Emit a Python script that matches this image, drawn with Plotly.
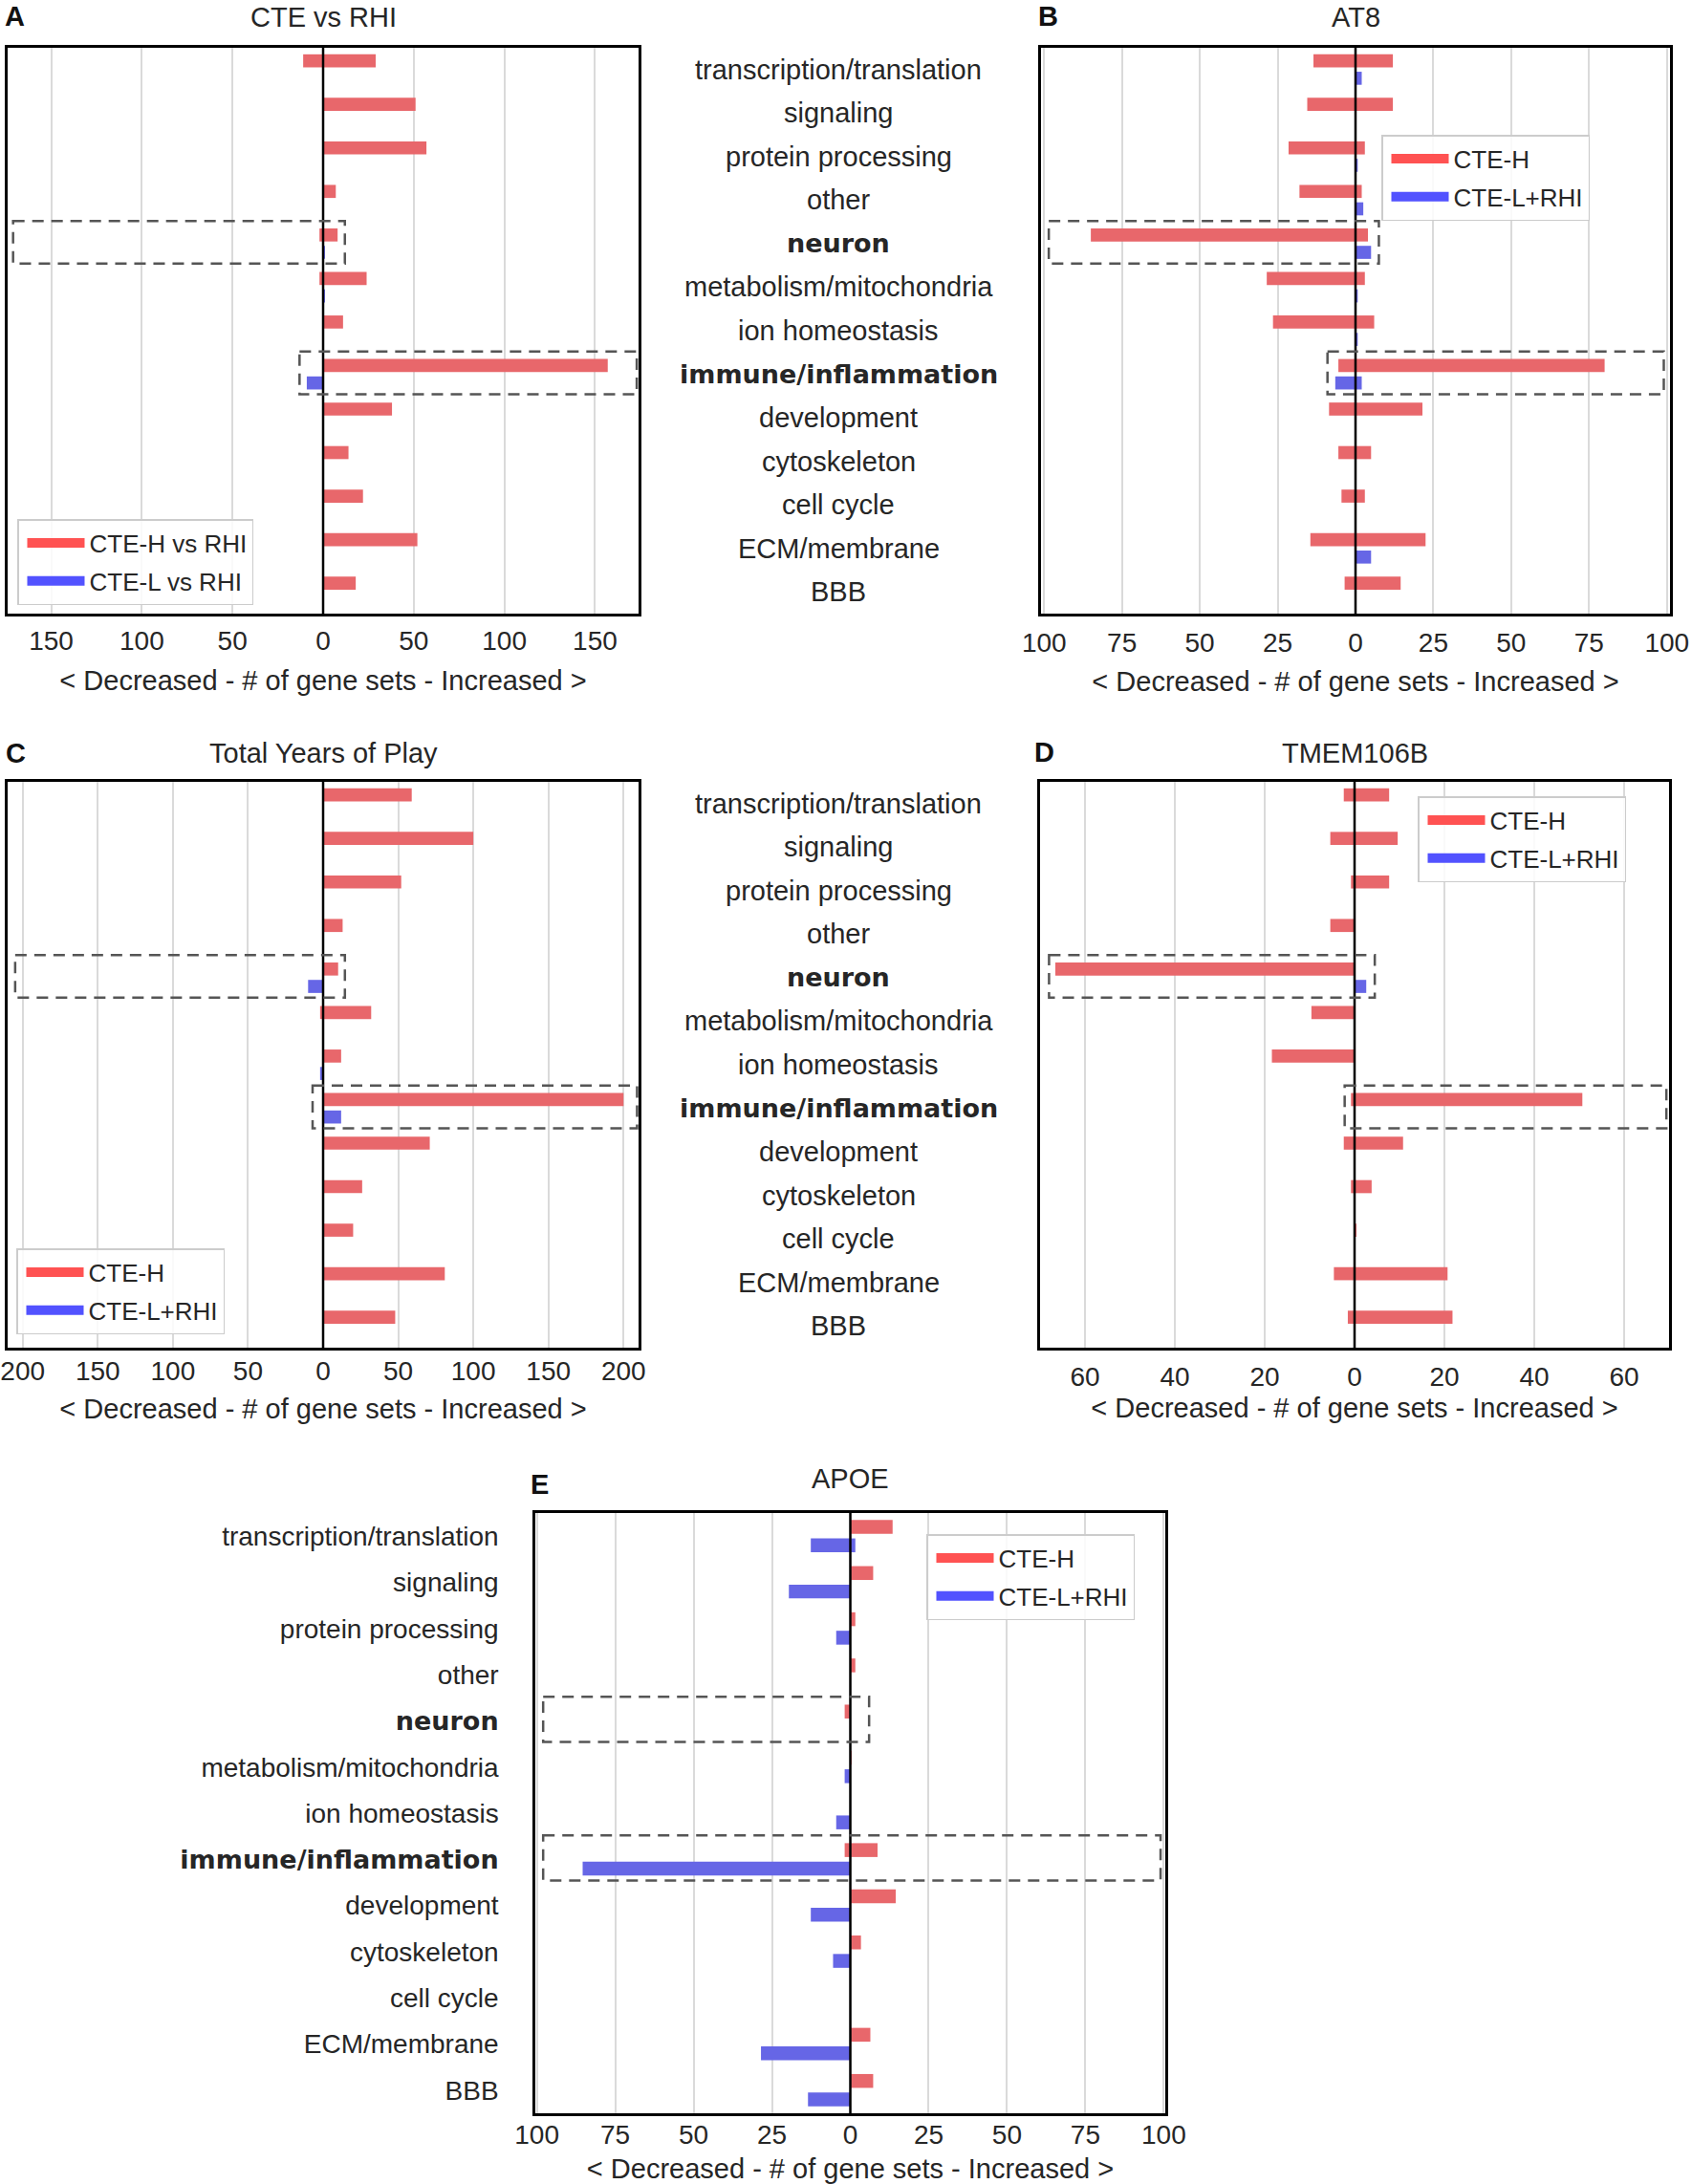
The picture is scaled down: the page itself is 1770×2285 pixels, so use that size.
import plotly.graph_objects as go

W, H = 1770, 2285

# ---------------- data ----------------
CATEGORIES = ["transcription/translation", "signaling", "protein processing", "other",
              "neuron", "metabolism/mitochondria", "ion homeostasis", "immune/inflammation",
              "development", "cytoskeleton", "cell cycle", "ECM/membrane", "BBB"]
BOLD_CATEGORIES = ["neuron", "immune/inflammation"]

PANEL_LETTERS = ["A", "B", "C", "D", "E"]
PANEL_TITLES = ["CTE vs RHI", "AT8", "Total Years of Play", "TMEM106B", "APOE"]
SERIES_NAMES_A = ["CTE-H vs RHI", "CTE-L vs RHI"]
SERIES_NAMES = ["CTE-H", "CTE-L+RHI"]
X_TITLE = "< Decreased - # of gene sets - Increased >"

# A: CTE vs RHI
A_H_INC = [29, 51, 57, 7, 8, 24, 11, 157, 38, 14, 22, 52, 18]
A_H_DEC = [-11, 0, 0, 0, -2, -2, 0, 0, 0, 0, 0, 0, 0]
A_L_INC = [0, 0, 0, 0, 1, 1, 0, 0, 0, 0, 0, 0, 0]
A_L_DEC = [0, 0, 0, 0, 0, 0, 0, -9, 0, 0, 0, 0, 0]
A_TICKS = [-150, -100, -50, 0, 50, 100, 150]

# B: AT8
B_H_INC = [12, 12, 3, 2, 4, 3, 6, 80, 21.5, 5, 3, 22.5, 14.5]
B_H_DEC = [-13.5, -15.5, -21.5, -18, -85, -28.5, -26.5, -5.5, -8.5, -5.5, -4.5, -14.5, -3.5]
B_L_INC = [2, 0, 0.7, 2.5, 5, 0.7, 0.7, 2, 0, 0, 0, 5, 0]
B_L_DEC = [0, 0, 0, 0, 0, 0, 0, -6.5, 0, 0, 0, 0, 0]
B_TICKS = [-100, -75, -50, -25, 0, 25, 50, 75, 100]

# C: Total Years of Play
C_H_INC = [59, 100, 52, 13, 10, 32, 12, 200, 71, 26, 20, 81, 48]
C_H_DEC = [0, 0, 0, 0, 0, -2, 0, 0, 0, 0, 0, 0, 0]
C_L_INC = [0, 0, 0, 0, 0, 0, 0, 12, 0, 0, 0, 0, 0]
C_L_DEC = [0, 0, 0, 0, -10, 0, -2, 0, 0, 0, 0, 0, 0]
C_TICKS = [-200, -150, -100, -50, 0, 50, 100, 150, 200]

# D: TMEM106B
D_H_INC = [7.7, 9.6, 7.7, 0, 0, 0, 0, 50.7, 10.8, 3.8, 0.3, 20.7, 21.8]
D_H_DEC = [-2.4, -5.4, -0.8, -5.4, -66.6, -9.6, -18.4, -0.8, -2.4, -0.8, 0, -4.6, -1.5]
D_L_INC = [0, 0, 0, 0, 2.6, 0, 0, 0, 0, 0, 0, 0, 0]
D_L_DEC = [0, 0, 0, 0, 0, 0, 0, 0, 0, 0, 0, 0, 0]
D_TICKS = [-60, -40, -20, 0, 20, 40, 60]

# E: APOE
E_H_INC = [13.5, 7.3, 1.6, 1.6, 0, 0.3, 0, 8.7, 14.5, 3.4, 0, 6.4, 7.3]
E_H_DEC = [0, 0, 0, 0, -1.8, 0, 0, -1.8, 0, 0, 0, 0, 0]
E_L_INC = [1.6, 0, 0, 0, 0, 0, 0, 0, 0, 0, 0, 0, 0]
E_L_DEC = [-12.6, -19.6, -4.5, 0, 0, -1.8, -4.5, -85.4, -12.6, -5.5, 0, -28.5, -13.5]
E_TICKS = [-100, -75, -50, -25, 0, 25, 50, 75, 100]

# ---------------- layout / style (pixels) ----------------
RED_BAR, BLUE_BAR = "#E8676B", "#6666E6"
RED_LEG, BLUE_LEG = "#FF5252", "#5252FF"
TEXT = "#262626"
FONT = "Liberation Sans, Arial, sans-serif"
BOLD_FONT = "DejaVu Sans, Verdana, sans-serif"

panels = [
    dict(h_inc=A_H_INC, h_dec=A_H_DEC, l_inc=A_L_INC, l_dec=A_L_DEC, ticks=A_TICKS, R=174,
         box=(8, 668, 50, 642), names=SERIES_NAMES_A, hl=[(-171, 12), (-13, 173)],
         legend=dict(x=18, y=633, yanchor="bottom"), title_y=18, letter=(3, 17),
         tstand=2, ttl=17),
    dict(h_inc=B_H_INC, h_dec=B_H_DEC, l_inc=B_L_INC, l_dec=B_L_DEC, ticks=B_TICKS, R=101,
         box=(1089, 1747, 50, 642), names=SERIES_NAMES, hl=[(-98.5, 7.5), (-9, 99)],
         legend=dict(x=1445, y=141, yanchor="top"), title_y=18, letter=(1084, 17),
         tstand=4, ttl=16),
    dict(h_inc=C_H_INC, h_dec=C_H_DEC, l_inc=C_L_INC, l_dec=C_L_DEC, ticks=C_TICKS, R=210,
         box=(8, 668, 818, 1410), names=SERIES_NAMES, hl=[(-205, 14.5), (-7, 209)],
         legend=dict(x=17, y=1396, yanchor="bottom"), title_y=788, letter=(4, 788),
         tstand=-2, ttl=15),
    dict(h_inc=D_H_INC, h_dec=D_H_DEC, l_inc=D_L_INC, l_dec=D_L_DEC, ticks=D_TICKS, R=70,
         box=(1088, 1746, 818, 1410), names=SERIES_NAMES, hl=[(-68, 4.5), (-2.2, 69.4)],
         legend=dict(x=1483, y=833, yanchor="top"), title_y=788, letter=(1080, 787),
         tstand=4, ttl=8),
    dict(h_inc=E_H_INC, h_dec=E_H_DEC, l_inc=E_L_INC, l_dec=E_L_DEC, ticks=E_TICKS, R=100.5,
         box=(560, 1219, 1583, 2211), names=SERIES_NAMES, hl=[(-98, 6), (-98, 99)],
         legend=dict(x=969, y=1605, yanchor="top"), title_y=1547, letter=(553, 1553),
         tstand=-4, ttl=11),
]

BAR_W = 0.3
fig = go.Figure()
shapes, annotations = [], []

for i, p in enumerate(panels):
    n = i + 1
    xid = "x" if n == 1 else f"x{n}"
    yid = "y" if n == 1 else f"y{n}"
    lid = "legend" if n == 1 else f"legend{n}"
    l, r, t, b = p["box"]

    for vals, color, off in [(p["h_inc"], RED_BAR, -0.35), (p["h_dec"], RED_BAR, -0.35),
                             (p["l_inc"], BLUE_BAR, 0.05), (p["l_dec"], BLUE_BAR, 0.05)]:
        fig.add_trace(go.Bar(orientation="h", y=CATEGORIES, x=vals, width=BAR_W, offset=off,
                             marker=dict(color=color, line=dict(width=0)),
                             xaxis=xid, yaxis=yid, showlegend=False))
    for name, color, grp in [(p["names"][0], RED_LEG, "h"), (p["names"][1], BLUE_LEG, "l")]:
        fig.add_trace(go.Scatter(x=[None], y=[None], mode="lines", name=name,
                                 line=dict(color=color, width=20), legend=lid,
                                 legendgroup=f"{grp}{n}", xaxis=xid, yaxis=yid))

    R = p["R"]
    xa = dict(domain=[l / W, r / W], range=[-R, R], anchor=yid,
              tickmode="array", tickvals=p["ticks"], ticktext=[str(abs(v)) for v in p["ticks"]],
              showgrid=True, gridcolor="#DADADA", gridwidth=1.5, zeroline=False,
              showline=True, mirror=True, linecolor="black", linewidth=2.5,
              ticks="", ticklabelstandoff=p["tstand"], tickfont=dict(size=28, color=TEXT),
              title=dict(text=X_TITLE, font=dict(size=29, color=TEXT), standoff=p["ttl"]),
              automargin=False, fixedrange=True)
    ya = dict(domain=[1 - b / H, 1 - t / H], range=[12.5, -0.5], anchor=xid,
              type="category", categoryorder="array", categoryarray=CATEGORIES,
              showgrid=False, zeroline=False, showline=True, mirror=True,
              linecolor="black", linewidth=2.5, ticks="", automargin=False, fixedrange=True)
    if n == 5:
        ya.update(showticklabels=True, tickmode="array", tickvals=CATEGORIES,
                  ticktext=[(f"<b><span style='font-family:DejaVu Sans;font-size:27px'>{c}</span></b>"
                             if c in BOLD_CATEGORIES else c) for c in CATEGORIES],
                  tickfont=dict(size=28, color=TEXT), ticklabelstandoff=30)
    else:
        ya.update(showticklabels=False)
    fig.update_layout(**{("xaxis" if n == 1 else f"xaxis{n}"): xa,
                         ("yaxis" if n == 1 else f"yaxis{n}"): ya})

    lg = p["legend"]
    fig.update_layout(**{lid: dict(x=lg["x"] / W, y=1 - lg["y"] / H, xanchor="left",
                                   yanchor=lg["yanchor"], bgcolor="rgba(255,255,255,0.85)",
                                   bordercolor="#CCCCCC", borderwidth=1.5,
                                   font=dict(size=26, color=TEXT), traceorder="grouped",
                                   tracegroupgap=3, itemwidth=60, indentation=4)})

    # zero line
    shapes.append(dict(type="line", xref=xid, yref=f"{yid} domain", x0=0, x1=0, y0=0, y1=1,
                       line=dict(color="black", width=2.5), layer="above"))
    # highlight boxes around neuron and immune rows
    for (x0, x1), cat in zip(p["hl"], BOLD_CATEGORIES):
        k = CATEGORIES.index(cat)
        shapes.append(dict(type="rect", xref=xid, yref=yid, x0=x0, x1=x1, y0=k - 0.52, y1=k + 0.46,
                           line=dict(color="#555555", width=2.5, dash="12px,8px"),
                           fillcolor="rgba(0,0,0,0)", layer="above"))
    # title and letter
    annotations.append(dict(text=PANEL_TITLES[i], xref="paper", yref="paper",
                            x=(l + r) / 2 / W, y=1 - p["title_y"] / H, showarrow=False,
                            xanchor="center", yanchor="middle", font=dict(size=29, color=TEXT)))
    lx, ly = p["letter"]
    annotations.append(dict(text=f"<b>{PANEL_LETTERS[i]}</b>", xref="paper", yref="paper",
                            x=lx / W, y=1 - ly / H, showarrow=False, xanchor="left",
                            yanchor="middle", font=dict(size=29, color="#111111")))

# middle category label columns (between A/B and C/D)
for yid in ["y", "y3"]:
    for c in CATEGORIES:
        bold = c in BOLD_CATEGORIES
        annotations.append(dict(text=f"<b>{c}</b>" if bold else c, xref="paper", yref=yid,
                                x=877 / W, y=c, showarrow=False, xanchor="center",
                                yanchor="middle",
                                font=dict(size=27 if bold else 29, color=TEXT,
                                          family=BOLD_FONT if bold else FONT)))

fig.update_layout(width=W, height=H,
                  margin=dict(l=0, r=0, t=0, b=0, pad=0, autoexpand=False),
                  plot_bgcolor="white", paper_bgcolor="white", barmode="overlay",
                  font=dict(family=FONT, size=27, color=TEXT),
                  shapes=shapes, annotations=annotations, showlegend=True)

fig.write_html("out.html", config={"displayModeBar": False},
               post_script="document.body.style.margin='0';document.body.style.overflow='hidden';")
